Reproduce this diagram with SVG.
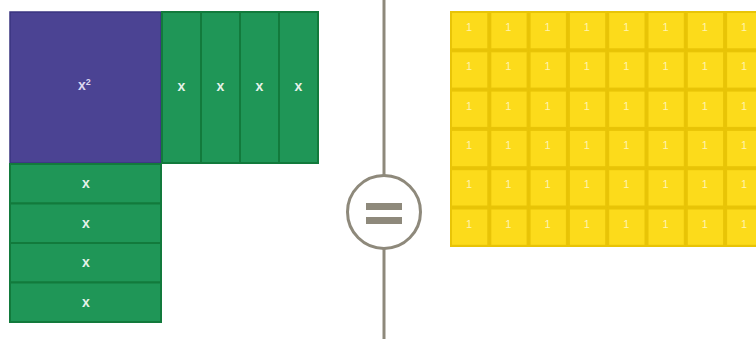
<svg xmlns="http://www.w3.org/2000/svg" width="756" height="339" viewBox="0 0 756 339">
<style>
.g{fill:#1f9657;stroke:#127a3c;stroke-width:2}
.p{fill:#4b4393;stroke:#3a3480;stroke-width:1.5}
.y{fill:#fcdb1b;stroke:#e8c407;stroke-width:2}
.t{font-family:"Liberation Sans",Arial,sans-serif;font-weight:bold;font-size:14px;fill:#e6f2ea;text-anchor:middle}
.tp{fill:#dcd8f0;text-anchor:start}
.one{font-family:"Liberation Sans",Arial,sans-serif;font-size:11px;fill:#fff3b0;text-anchor:middle}
.ln{stroke:#8e897b;stroke-width:3;fill:none}
</style>
<rect width="756" height="339" fill="#ffffff"/>
<g id="x2">
<rect class="p" x="10" y="12" width="151" height="151"/>
<text class="t tp" x="78" y="90">x<tspan font-size="9" dy="-5">2</tspan></text>
</g>
<g id="vstrips">
<rect class="g" x="162" y="12" width="39" height="151"/>
<rect class="g" x="201" y="12" width="39" height="151"/>
<rect class="g" x="240" y="12" width="39" height="151"/>
<rect class="g" x="279" y="12" width="39" height="151"/>
<text class="t" x="181.5" y="91">x</text>
<text class="t" x="220.5" y="91">x</text>
<text class="t" x="259.5" y="91">x</text>
<text class="t" x="298.5" y="91">x</text>
</g>
<g id="hstrips">
<rect class="g" x="10" y="164" width="151" height="39.5"/>
<rect class="g" x="10" y="203.5" width="151" height="39.5"/>
<rect class="g" x="10" y="243" width="151" height="39.5"/>
<rect class="g" x="10" y="282.5" width="151" height="39.5"/>
<text class="t" x="86" y="188">x</text>
<text class="t" x="86" y="227.5">x</text>
<text class="t" x="86" y="267">x</text>
<text class="t" x="86" y="306.5">x</text>
</g>
<g id="connectors">
<line class="ln" x1="384" y1="0" x2="384" y2="175.5"/>
<line class="ln" x1="384" y1="248.5" x2="384" y2="339"/>
</g>
<g id="equals">
<circle class="ln" cx="384" cy="212" r="36.5"/>
<rect x="366" y="203" width="36" height="7" fill="#8e897b"/>
<rect x="366" y="217" width="36" height="7" fill="#8e897b"/>
</g>
<g id="units">
<rect x="450" y="11" width="320" height="236" fill="#e8c407"/>
<g id="row1">
<rect class="y" x="451" y="12" width="37.3" height="37.3"/>
<rect class="y" x="490.3" y="12" width="37.3" height="37.3"/>
<rect class="y" x="529.6" y="12" width="37.3" height="37.3"/>
<rect class="y" x="568.9" y="12" width="37.3" height="37.3"/>
<rect class="y" x="608.2" y="12" width="37.3" height="37.3"/>
<rect class="y" x="647.5" y="12" width="37.3" height="37.3"/>
<rect class="y" x="686.8" y="12" width="37.3" height="37.3"/>
<rect class="y" x="726.1" y="12" width="37.3" height="37.3"/>
</g>
<use href="#row1" y="39.3"/>
<use href="#row1" y="78.6"/>
<use href="#row1" y="117.9"/>
<use href="#row1" y="157.2"/>
<use href="#row1" y="196.5"/>
<g id="ones1">
<text class="one" x="469" y="31">1</text>
<text class="one" x="508.3" y="31">1</text>
<text class="one" x="547.6" y="31">1</text>
<text class="one" x="586.9" y="31">1</text>
<text class="one" x="626.2" y="31">1</text>
<text class="one" x="665.5" y="31">1</text>
<text class="one" x="704.8" y="31">1</text>
<text class="one" x="744.1" y="31">1</text>
</g>
<use href="#ones1" y="39.3"/>
<use href="#ones1" y="78.6"/>
<use href="#ones1" y="117.9"/>
<use href="#ones1" y="157.2"/>
<use href="#ones1" y="196.5"/>
</g>
</svg>
